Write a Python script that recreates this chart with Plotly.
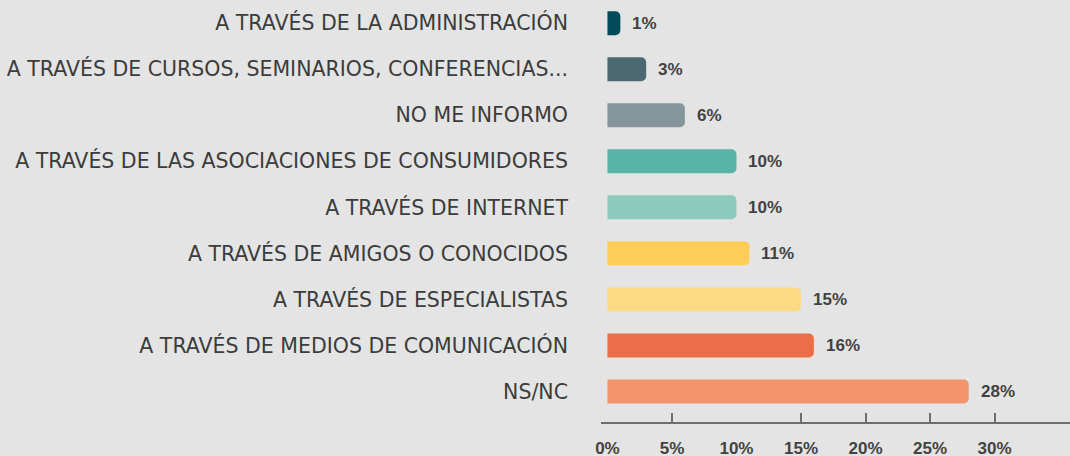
import plotly.graph_objects as go

# Categories listed bottom-to-top
categories = [
    "NS/NC",
    "A TRAVÉS DE MEDIOS DE COMUNICACIÓN",
    "A TRAVÉS DE ESPECIALISTAS",
    "A TRAVÉS DE AMIGOS O CONOCIDOS",
    "A TRAVÉS DE INTERNET",
    "A TRAVÉS DE LAS ASOCIACIONES DE CONSUMIDORES",
    "NO ME INFORMO",
    "A TRAVÉS DE CURSOS, SEMINARIOS, CONFERENCIAS...",
    "A TRAVÉS DE LA ADMINISTRACIÓN",
]
values = [28, 16, 15, 11, 10, 10, 6, 3, 1]
colors = [
    "#f2956e", "#ec6e48", "#fed985", "#fdcd55", "#8ecbbf",
    "#58b3a8", "#84959c", "#4b6873", "#024b5a",
]
tick_values = [0, 5, 10, 15, 20, 25, 30]
tick_labels = ["0%", "5%", "10%", "15%", "20%", "25%", "30%"]
tick_marks = [-0.5, 5, 15, 20, 25, 30]

bg = "#e3e4e3"
positions = list(range(len(categories)))

fig = go.Figure()
fig.add_trace(go.Bar(
    x=values,
    y=positions,
    orientation="h",
    width=0.52,
    marker=dict(color=colors, line=dict(width=0)),
    hoverinfo="skip",
))
# tick marks only (separate overlay axis)
fig.add_trace(go.Scatter(x=[None], y=[None], xaxis="x2", showlegend=False))

for p, v in zip(positions, values):
    fig.add_annotation(
        x=v, y=p, text=f"<b>{v}%</b>", showarrow=False,
        xanchor="left", xshift=10,
        font=dict(family="Liberation Sans, Arial, sans-serif", size=17, color="#424242"),
    )

xrange = [-0.5, 35.85]
fig.update_layout(
    width=1070, height=456,
    margin=dict(l=601, r=0, t=0, b=33.5),
    paper_bgcolor=bg, plot_bgcolor=bg,
    showlegend=False,
    barcornerradius=5,
    xaxis=dict(
        range=xrange, tickvals=tick_values, ticktext=tick_labels,
        showgrid=False, zeroline=False, showline=True, automargin=False,
        linecolor="#6e6e6e", linewidth=1.5, ticks="",
        ticklabelstandoff=10,
        tickfont=dict(family="Liberation Sans, Arial, sans-serif", size=17, color="#424242", weight="bold"),
    ),
    xaxis2=dict(
        range=xrange, overlaying="x", anchor="y", side="bottom",
        tickvals=tick_marks, showticklabels=False, automargin=False,
        ticks="inside", ticklen=9, tickwidth=1.5, tickcolor="#6e6e6e",
        showgrid=False, zeroline=False, showline=False,
    ),
    yaxis=dict(
        range=[-0.662, 8.503], tickvals=positions, ticktext=categories,
        showgrid=False, zeroline=False, showline=False, ticks="",
        ticklabelstandoff=32, automargin=False,
        tickfont=dict(family="DejaVu Sans, sans-serif", size=20.5, color="#3c3c3c"),
    ),
)

fig.write_html("out.html")
